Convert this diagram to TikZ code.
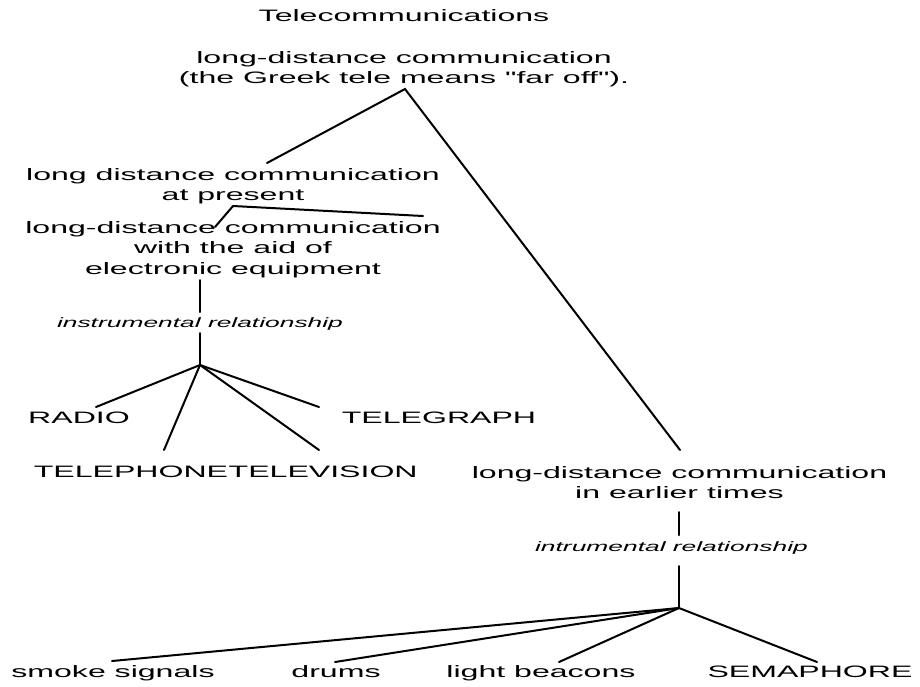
\documentclass[tikz,border=0pt]{standalone}
\usepackage{fontspec}
\setmainfont{Liberation Sans}[FakeStretch=1.94, Ligatures=TeXOff]
\begin{document}
\begin{tikzpicture}[x=0.75pt,y=-0.75pt,
  lbl/.style={inner sep=0pt, anchor=base, align=center, font=\fontsize{12.4}{14.3}\selectfont},
  rel/.style={inner sep=0pt, anchor=base, font=\fontsize{10.2}{12}\selectfont\itshape},
  edge/.style={line width=1.5pt, line cap=round}]
\useasboundingbox (0,0) rectangle (920,686);
% text nodes (base anchor = baseline of the last line)
\node[lbl] (title) at (404,21) {Telecommunications};
\node[lbl] (root) at (404,83) {long-distance communication\\(the Greek tele means "far off").};
\node[lbl] (present) at (233,200) {long distance communication\\at present};
\node[lbl, font=\fontsize{12.4}{15.3}\selectfont] (electronic) at (233,274) {long-distance communication\\with the aid of\\electronic equipment};
\node[rel] (instr1) at (200,327) {instrumental relationship};
\node[lbl] (radio) at (79,423) {RADIO};
\node[lbl] (telegraph) at (439,423) {TELEGRAPH};
\node[lbl] (telephone) at (131,477) {TELEPHONE};
\node[lbl, anchor=base west] (television) at (telephone.base east) {TELEVISION};
\node[lbl] (earlier) at (679.5,498) {long-distance communication\\in earlier times};
\node[rel] (instr2) at (671.5,551) {intrumental relationship};
\node[lbl] (smoke) at (113,677) {smoke signals};
\node[lbl] (drums) at (336,677) {drums};
\node[lbl] (beacons) at (541,677) {light beacons};
\node[lbl] (sema) at (810,677) {SEMAPHORE};
% junctions and line ends
\coordinate (j0) at (405,89);
\coordinate (j0a) at (267,163);
\coordinate (j0b) at (680,450);
\coordinate (j1) at (233,206);
\coordinate (j1a) at (215,227);
\coordinate (j1b) at (423,216);
\coordinate (v1t) at (200,280);
\coordinate (v1b) at (200,312);
\coordinate (v2t) at (200,333);
\coordinate (j2) at (200,365);
\coordinate (eradio) at (96,407);
\coordinate (ephone) at (164,450);
\coordinate (evision) at (319,450);
\coordinate (egraph) at (319,407);
\coordinate (v3t) at (679,512);
\coordinate (v3b) at (679,535);
\coordinate (v4t) at (679,566);
\coordinate (j3) at (679,608);
\coordinate (esmoke) at (112,661);
\coordinate (edrums) at (335,662);
\coordinate (ebeacons) at (559,662);
\coordinate (esema) at (817,662);
% connectors
\draw[edge] (j0a) -- (j0) -- (j0b);
\draw[edge] (j1a) -- (j1) -- (j1b);
\draw[edge] (v1t) -- (v1b);
\draw[edge] (v2t) -- (j2);
\draw[edge] (j2) -- (eradio);
\draw[edge] (j2) -- (ephone);
\draw[edge] (j2) -- (evision);
\draw[edge] (j2) -- (egraph);
\draw[edge] (v3t) -- (v3b);
\draw[edge] (v4t) -- (j3);
\draw[edge] (j3) -- (esmoke);
\draw[edge] (j3) -- (edrums);
\draw[edge] (j3) -- (ebeacons);
\draw[edge] (j3) -- (esema);
\end{tikzpicture}
\end{document}
